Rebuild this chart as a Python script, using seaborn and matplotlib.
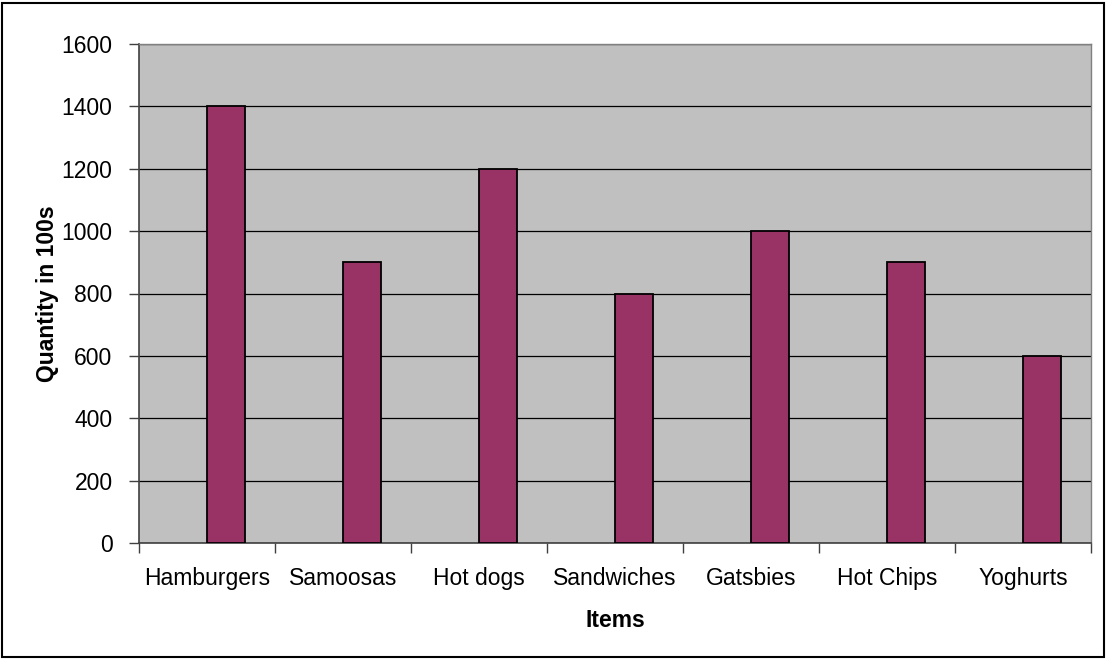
import pandas as pd
import seaborn as sns
import matplotlib.pyplot as plt
from matplotlib.patches import Rectangle

# Chart data
items = ['Hamburgers', 'Samoosas', 'Hot dogs', 'Sandwiches', 'Gatsbies', 'Hot Chips', 'Yoghurts']
quantity = [1400, 900, 1200, 800, 1000, 900, 600]
# Excel-style empty first series, which pushes the bars right of centre
blank = [0, 0, 0, 0, 0, 0, 0]

df = pd.concat([
    pd.DataFrame({'item': items, 'value': blank, 'series': 'blank'}),
    pd.DataFrame({'item': items, 'value': quantity, 'series': 'qty'}),
])

sns.set_style('white')
plt.rcParams['font.family'] = ['Liberation Sans', 'DejaVu Sans']
plt.rcParams['text.color'] = 'black'
plt.rcParams['axes.labelcolor'] = 'black'

fig = plt.figure(figsize=(11.08, 6.59), dpi=100)
ax = fig.add_axes([139 / 1108, 116 / 659, 952 / 1108, 499 / 659])
ax.set_facecolor('#C0C0C0')

sns.barplot(data=df, x='item', y='value', hue='series', order=items,
            hue_order=['blank', 'qty'], palette={'blank': '#993366', 'qty': '#993366'},
            saturation=1, width=0.56, gap=0, edgecolor='black', linewidth=1.3,
            legend=False, ax=ax, zorder=3)
# hide the empty series
for p in ax.containers[0]:
    p.set_visible(False)

ax.set_ylim(0, 1600)
ax.set_yticks(range(0, 1601, 200))
ax.set_xlim(-0.5, len(items) - 0.5)
ax.yaxis.grid(True, color='black', linewidth=0.9, zorder=1)
ax.set_axisbelow(True)

# category boundary ticks on x, labels in the middle
ax.set_xticks([i - 0.5 for i in range(len(items) + 1)], minor=True)
ax.tick_params(axis='x', which='major', bottom=True, length=0, pad=17, labelsize=16.5)
ax.tick_params(axis='x', which='minor', bottom=True, length=7, width=1, color='#404040', direction='out')
ax.tick_params(axis='y', left=True, length=7, width=1, color='#404040', direction='out', pad=12, labelsize=16.5)
ax.tick_params(axis='both', labelcolor='black')

for side in ['left', 'bottom']:
    ax.spines[side].set_color('#404040')
    ax.spines[side].set_linewidth(1.2)
for side in ['top', 'right']:
    ax.spines[side].set_color('#808080')
    ax.spines[side].set_linewidth(1)

ax.set_xlabel('Items', fontsize=16.5, fontweight='bold', labelpad=14)
ax.set_ylabel('Quantity in 100s', fontsize=16.5, fontweight='bold', labelpad=2)

# border round the whole chart
fig.patches.append(Rectangle((2 / 1108, 2 / 659), 1102 / 1108, 654 / 659,
                             transform=fig.transFigure, fill=False,
                             edgecolor='black', linewidth=1.5))

fig.savefig('out.png', dpi=100, facecolor='white')
